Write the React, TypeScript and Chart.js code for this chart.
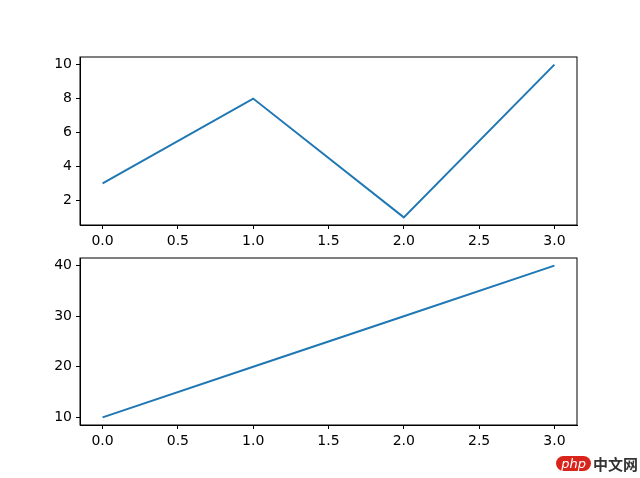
import { Chart, registerables } from 'chart.js';
import { useEffect, useRef } from 'react';

Chart.register(...registerables);

const LINE_COLOR = '#1f77b4';
const FONT_STYLE = 'DejaVu Sans';
const X_VALUES = [0, 1, 2, 3];
const TOP_VALUES = [3, 8, 1, 10];
const BOTTOM_VALUES = [10, 20, 30, 40];
const X_TICKS = [0, 0.5, 1, 1.5, 2, 2.5, 3];
const TOP_Y_TICKS = [2, 4, 6, 8, 10];
const BOTTOM_Y_TICKS = [10, 20, 30, 40];

type PanelProps = {
  values: number[];
  yTicks: number[];
  yMin: number;
  yMax: number;
  padTop: number;
  padBottom: number;
};

// matplotlib 风格的上、右边框
const frame = {
  id: 'frame',
  afterDraw(chart: Chart) {
    const { ctx, chartArea: { left, top, right, bottom } } = chart;
    ctx.save();
    ctx.strokeStyle = '#000';
    ctx.lineWidth = 1;
    ctx.strokeRect(left, top, right - left, bottom - top);
    ctx.restore();
  },
};

const Panel = ({ values, yTicks, yMin, yMax, padTop, padBottom }: PanelProps) => {
  const chartRef = useRef<HTMLCanvasElement | null>(null);
  useEffect(() => {
    if (chartRef.current === null) return () => {};
    const axisStyle = {
      grid: { drawOnChartArea: false, drawTicks: true, tickLength: 4, tickColor: '#000' },
      border: { display: true, color: '#000', width: 1 },
    };
    const aChart = new Chart(chartRef.current, {
      type: 'line',
      plugins: [frame],
      data: {
        datasets: [{
          data: values.map((y, i) => ({ x: X_VALUES[i], y })),
          borderColor: LINE_COLOR,
          borderWidth: 2,
          pointRadius: 0,
          tension: 0,
          fill: false,
        }],
      },
      options: {
        animation: false,
        responsive: false,
        layout: { padding: { left: 40, right: 63, top: padTop, bottom: padBottom } },
        plugins: { legend: { display: false }, tooltip: { enabled: false } },
        scales: {
          x: {
            type: 'linear',
            min: -0.15,
            max: 3.15,
            ...axisStyle,
            afterFit(scale) { scale.height = 30; },
            afterBuildTicks(scale) { scale.ticks = X_TICKS.map((value) => ({ value })); },
            ticks: {
              color: '#000',
              padding: 4,
              maxRotation: 0,
              font: { family: FONT_STYLE, size: 14 },
              callback: (v) => Number(v).toFixed(1),
            },
          },
          y: {
            type: 'linear',
            min: yMin,
            max: yMax,
            ...axisStyle,
            afterFit(scale) { scale.width = 40; },
            afterBuildTicks(scale) { scale.ticks = yTicks.map((value) => ({ value })); },
            ticks: {
              color: '#000',
              padding: 4,
              font: { family: FONT_STYLE, size: 14 },
            },
          },
        },
      },
    });
    return () => {
      aChart.destroy();
    };
  }, [values, yTicks, yMin, yMax, padTop, padBottom]);

  return (
    <canvas
      ref={chartRef}
      width={640}
      height={478}
      style={{ position: 'absolute', left: 0, top: 0 }}
    />
  );
};

const App = () => (
  <div style={{ position: 'fixed', left: 0, top: 0, width: 640, height: 478, background: '#fff' }}>
    <Panel values={TOP_VALUES} yTicks={TOP_Y_TICKS} yMin={0.55} yMax={10.45} padTop={57} padBottom={223} />
    <Panel values={BOTTOM_VALUES} yTicks={BOTTOM_Y_TICKS} yMin={8.5} yMax={41.5} padTop={258} padBottom={23} />
    <div style={{ position: 'absolute', right: 2, bottom: 4, fontFamily: FONT_STYLE, fontSize: 15, display: 'flex', alignItems: 'center' }}>
      <span style={{ background: '#d9241b', color: '#fff', borderRadius: 10, padding: '0 5px', fontSize: 13, fontStyle: 'italic' }}>php</span>
      <span style={{ fontFamily: 'Noto Sans CJK SC', color: '#333', marginLeft: 2, fontWeight: 'bold' }}>中文网</span>
    </div>
  </div>
);

export default App;
